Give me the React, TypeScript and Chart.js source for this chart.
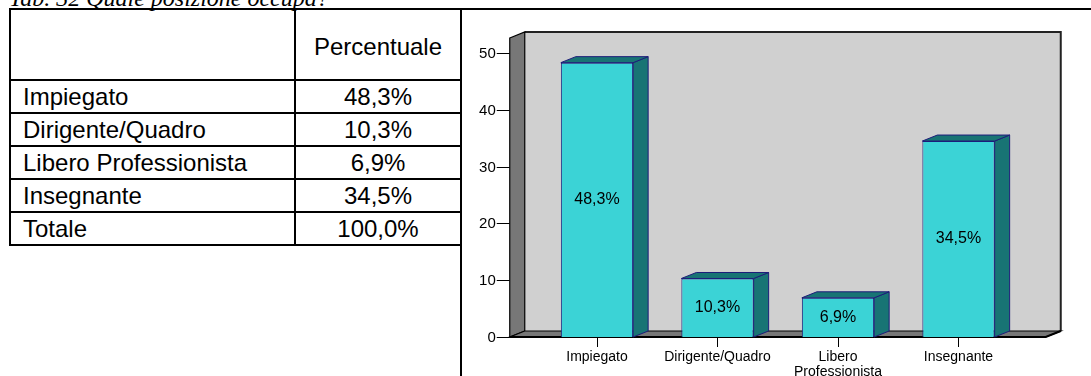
import React, { useEffect, useRef } from 'react';
import { Chart, registerables } from 'chart.js';

Chart.register(...registerables);

// ---------- data ----------
const TITLE = 'Tab. 32 Quale posizione occupa?';
const HEADER = 'Percentuale';
const categories = ['Impiegato', 'Dirigente/Quadro', 'Libero Professionista', 'Insegnante'];
const axisLabels = [['Impiegato'], ['Dirigente/Quadro'], ['Libero', 'Professionista'], ['Insegnante']];
const percentages = [48.3, 10.3, 6.9, 34.5];
const totalLabel = 'Totale';
const totalValue = 100.0;
const yMin = 0;
const yMax = 50;
const yStep = 10;

const fmt = (v: number) => v.toFixed(1).replace('.', ',') + '%';

// ---------- style ----------
const SANS = '"Liberation Sans", Arial, Helvetica, sans-serif';
const SERIF = '"Liberation Serif", "Times New Roman", serif';
const DX = 15;
const DY = 6;

const poly = (ctx: CanvasRenderingContext2D, pts: number[][]) => {
  ctx.beginPath();
  ctx.moveTo(pts[0][0], pts[0][1]);
  for (let i = 1; i < pts.length; i++) ctx.lineTo(pts[i][0], pts[i][1]);
  ctx.closePath();
};

const box3d = {
  id: 'box3d',
  beforeDraw(chart: any) {
    const { ctx, chartArea: a, scales } = chart;
    const fl = a.left - 27;
    const fr = a.right + 27;
    const fb = a.bottom;
    const ft = a.top - 15;
    ctx.save();
    // back wall
    ctx.fillStyle = '#d0d0d0';
    ctx.fillRect(fl + DX, ft - DY, fr - fl, fb - ft);
    ctx.strokeStyle = '#222';
    ctx.lineWidth = 2;
    ctx.beginPath();
    ctx.moveTo(fl + DX, ft - DY);
    ctx.lineTo(fr + DX, ft - DY);
    ctx.lineTo(fr + DX, fb - DY);
    ctx.stroke();
    // left wall
    ctx.fillStyle = '#777777';
    poly(ctx, [[fl, ft], [fl + DX, ft - DY], [fl + DX, fb - DY], [fl, fb]]);
    ctx.fill();
    ctx.strokeStyle = '#000';
    ctx.lineWidth = 1.2;
    ctx.stroke();
    // floor
    poly(ctx, [[fl, fb], [fl + DX, fb - DY], [fr + DX, fb - DY], [fr, fb]]);
    ctx.fillStyle = '#777777';
    ctx.fill();
    ctx.stroke();
    ctx.lineWidth = 2;
    ctx.beginPath();
    ctx.moveTo(fl, fb);
    ctx.lineTo(fr, fb);
    ctx.lineTo(fr + DX, fb - DY);
    ctx.stroke();
    // y ticks and labels
    const ys = scales.y;
    ctx.lineWidth = 1;
    ctx.strokeStyle = '#000';
    ctx.fillStyle = '#000';
    ctx.font = `15px ${SANS}`;
    ctx.textAlign = 'right';
    ctx.textBaseline = 'middle';
    ys.ticks.forEach((t: any) => {
      if (t.value % yStep !== 0) return;
      const y = Math.round(ys.getPixelForValue(t.value)) + 0.5;
      ctx.beginPath();
      ctx.moveTo(fl - 13, y);
      ctx.lineTo(fl, y);
      ctx.stroke();
      ctx.fillText(String(t.value), fl - 14, y);
    });
    ctx.restore();
  },
  afterDatasetsDraw(chart: any) {
    const { ctx } = chart;
    const meta = chart.getDatasetMeta(0);
    const values = chart.data.datasets[0].data as number[];
    ctx.save();
    meta.data.forEach((el: any, i: number) => {
      const { x, y, base, width } = el.getProps(['x', 'y', 'base', 'width'], true);
      const l = x - width / 2;
      const r = x + width / 2;
      ctx.fillStyle = '#187474';
      ctx.strokeStyle = '#1d1d7a';
      ctx.lineWidth = 1;
      poly(ctx, [[r, y], [r + DX, y - DY], [r + DX, base - DY], [r, base]]);
      ctx.fill();
      ctx.stroke();
      poly(ctx, [[l, y], [l + DX, y - DY], [r + DX, y - DY], [r, y]]);
      ctx.fill();
      ctx.stroke();
      ctx.fillStyle = '#000';
      ctx.font = `16px ${SANS}`;
      ctx.textAlign = 'center';
      ctx.textBaseline = 'middle';
      ctx.fillText(fmt(values[i]), x, (y + base) / 2);
    });
    ctx.restore();
  },
};

function BarChart() {
  const ref = useRef<HTMLCanvasElement | null>(null);
  useEffect(() => {
    if (!ref.current) return;
    const chart = new Chart(ref.current, {
      type: 'bar',
      data: {
        labels: axisLabels as any,
        datasets: [
          {
            data: percentages,
            backgroundColor: '#3bd3d6',
            borderColor: '#1d1d7a',
            borderWidth: 1,
            barPercentage: 0.6,
            categoryPercentage: 1,
          },
        ],
      },
      options: {
        responsive: false,
        animation: false,
        events: [],
        layout: { padding: { left: 73.75, right: 72.25, top: 43, bottom: 0 } },
        plugins: { legend: { display: false }, tooltip: { enabled: false } },
        scales: {
          x: {
            offset: true,
            grid: {
              display: true,
              offset: false,
              drawOnChartArea: false,
              drawTicks: true,
              tickLength: 10,
              color: '#000',
              lineWidth: 1,
            },
            border: { display: false },
            ticks: {
              color: '#000',
              font: { family: SANS, size: 14, lineHeight: 1.05 },
              padding: 3,
              maxRotation: 0,
              minRotation: 0,
              autoSkip: false,
            },
            afterFit: (s: any) => {
              s.height = 39;
            },
          },
          y: {
            display: false,
            min: yMin,
            max: yMax,
            ticks: { stepSize: yStep },
          },
        },
      } as any,
      plugins: [box3d],
    });
    return () => chart.destroy();
  }, []);
  return (
    <canvas
      ref={ref}
      width={628}
      height={366}
      style={{ position: 'absolute', left: 463, top: 10, width: 628, height: 366 }}
    />
  );
}

const cell = (first: boolean): React.CSSProperties => ({
  boxSizing: 'border-box',
  borderRight: '2px solid #000',
  borderBottom: '2px solid #000',
  display: 'flex',
  alignItems: 'center',
  justifyContent: first ? 'flex-start' : 'center',
  paddingLeft: first ? 12 : 0,
  paddingTop: 1,
  whiteSpace: 'nowrap',
});

export default function App() {
  const rows: [string, number][] = categories.map((c, i) => [c, percentages[i]]);
  rows.push([totalLabel, totalValue]);
  return (
    <div
      style={{
        position: 'fixed',
        left: 0,
        top: 0,
        width: 1091,
        height: 376,
        overflow: 'hidden',
        background: '#fff',
      }}
    >
      <div
        style={{
          position: 'absolute',
          left: 9,
          top: -14,
          fontFamily: SERIF,
          fontStyle: 'italic',
          fontSize: 24,
          lineHeight: '24px',
          whiteSpace: 'nowrap',
          color: '#000',
        }}
      >
        {TITLE}
      </div>
      <div
        style={{
          position: 'absolute',
          left: 9,
          top: 8,
          borderTop: '2px solid #000',
          borderLeft: '2px solid #000',
          display: 'grid',
          gridTemplateColumns: '285px 166px',
          gridTemplateRows: '71px repeat(5, 33px)',
          fontFamily: SANS,
          fontSize: 24,
          color: '#000',
        }}
      >
        <div style={cell(true)} />
        <div style={{ ...cell(false), paddingTop: 4 }}>{HEADER}</div>
        {rows.map(([label, v]) => (
          <React.Fragment key={label}>
            <div style={cell(true)}>{label}</div>
            <div style={cell(false)}>{fmt(v)}</div>
          </React.Fragment>
        ))}
      </div>
      <div
        style={{
          position: 'absolute',
          left: 460,
          top: 8,
          width: 1000,
          height: 1000,
          borderLeft: '2px solid #000',
          borderTop: '2px solid #000',
        }}
      />
      <BarChart />
    </div>
  );
}
